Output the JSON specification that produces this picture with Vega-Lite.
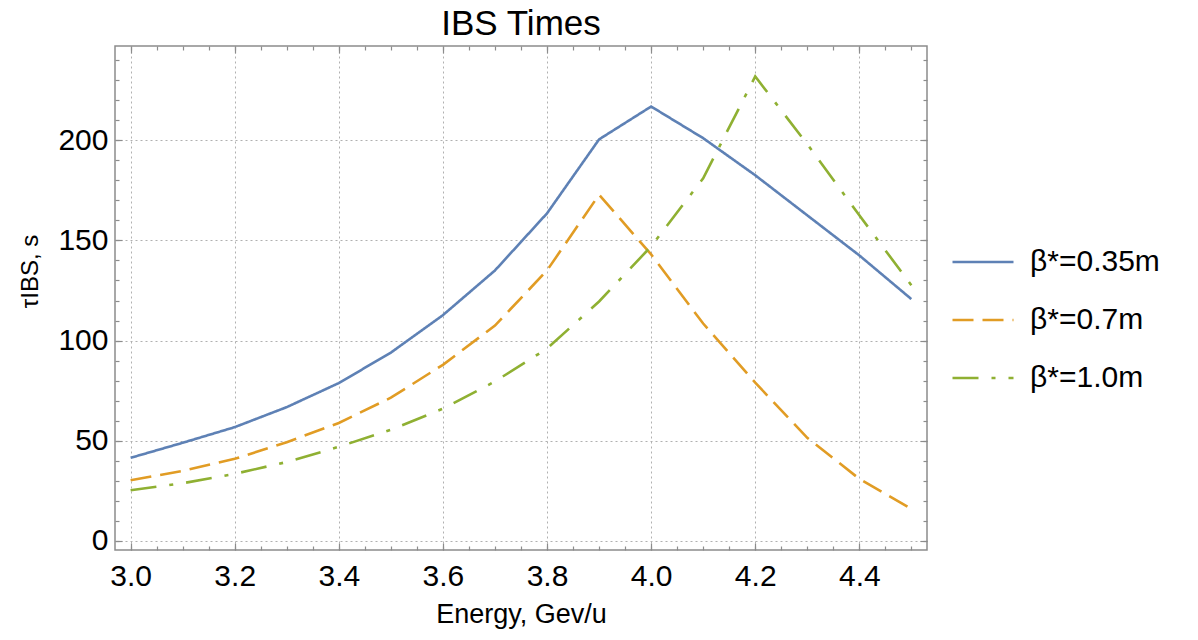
{
  "$schema": "https://vega.github.io/schema/vega-lite/v6.json",
  "width": 812,
  "height": 504,
  "autosize": {"type": "none"},
  "padding": {"left": 115, "top": 46, "right": 271, "bottom": 90},
  "background": "white",
  "config": {
    "font": "Liberation Sans",
    "view": {"stroke": "#8c8c8c", "strokeWidth": 1.5},
    "axis": {
      "domain": false,
      "labelFont": "Liberation Sans",
      "labelColor": "black",
      "titleFont": "Liberation Sans",
      "titleColor": "black",
      "titleFontWeight": "normal",
      "tickColor": "#8c8c8c",
      "tickWidth": 1.2,
      "gridColor": "#b0b0b0",
      "gridDash": [2, 3],
      "gridWidth": 1
    }
  },
  "title": {
    "text": "IBS Times",
    "fontSize": 35,
    "font": "Liberation Sans",
    "fontWeight": "normal",
    "color": "black",
    "anchor": "middle",
    "offset": 3
  },
  "data": {
    "values": [
      {"E": 3.0, "tau": 41.5, "beam": "β*=0.35m"},
      {"E": 3.1, "tau": 49.0, "beam": "β*=0.35m"},
      {"E": 3.2, "tau": 56.8, "beam": "β*=0.35m"},
      {"E": 3.3, "tau": 66.8, "beam": "β*=0.35m"},
      {"E": 3.4, "tau": 78.8, "beam": "β*=0.35m"},
      {"E": 3.5, "tau": 94.0, "beam": "β*=0.35m"},
      {"E": 3.6, "tau": 112.7, "beam": "β*=0.35m"},
      {"E": 3.7, "tau": 135.0, "beam": "β*=0.35m"},
      {"E": 3.8, "tau": 163.5, "beam": "β*=0.35m"},
      {"E": 3.9, "tau": 200.4, "beam": "β*=0.35m"},
      {"E": 4.0, "tau": 216.8, "beam": "β*=0.35m"},
      {"E": 4.1, "tau": 201.0, "beam": "β*=0.35m"},
      {"E": 4.2, "tau": 182.5, "beam": "β*=0.35m"},
      {"E": 4.3, "tau": 162.5, "beam": "β*=0.35m"},
      {"E": 4.4, "tau": 142.5, "beam": "β*=0.35m"},
      {"E": 4.5, "tau": 120.7, "beam": "β*=0.35m"},
      {"E": 3.0, "tau": 30.3, "beam": "β*=0.7m"},
      {"E": 3.1, "tau": 35.0, "beam": "β*=0.7m"},
      {"E": 3.2, "tau": 41.0, "beam": "β*=0.7m"},
      {"E": 3.3, "tau": 49.3, "beam": "β*=0.7m"},
      {"E": 3.4, "tau": 58.9, "beam": "β*=0.7m"},
      {"E": 3.5, "tau": 71.5, "beam": "β*=0.7m"},
      {"E": 3.6, "tau": 87.9, "beam": "β*=0.7m"},
      {"E": 3.7, "tau": 107.5, "beam": "β*=0.7m"},
      {"E": 3.8, "tau": 135.0, "beam": "β*=0.7m"},
      {"E": 3.9, "tau": 172.8, "beam": "β*=0.7m"},
      {"E": 4.0, "tau": 143.0, "beam": "β*=0.7m"},
      {"E": 4.1, "tau": 108.5, "beam": "β*=0.7m"},
      {"E": 4.2, "tau": 79.0, "beam": "β*=0.7m"},
      {"E": 4.3, "tau": 51.5, "beam": "β*=0.7m"},
      {"E": 4.4, "tau": 31.0, "beam": "β*=0.7m"},
      {"E": 4.5, "tau": 16.0, "beam": "β*=0.7m"},
      {"E": 3.0, "tau": 25.3, "beam": "β*=1.0m"},
      {"E": 3.1, "tau": 28.8, "beam": "β*=1.0m"},
      {"E": 3.2, "tau": 33.5, "beam": "β*=1.0m"},
      {"E": 3.3, "tau": 39.4, "beam": "β*=1.0m"},
      {"E": 3.4, "tau": 47.0, "beam": "β*=1.0m"},
      {"E": 3.5, "tau": 55.5, "beam": "β*=1.0m"},
      {"E": 3.6, "tau": 66.0, "beam": "β*=1.0m"},
      {"E": 3.7, "tau": 79.6, "beam": "β*=1.0m"},
      {"E": 3.8, "tau": 96.0, "beam": "β*=1.0m"},
      {"E": 3.9, "tau": 119.5, "beam": "β*=1.0m"},
      {"E": 4.0, "tau": 147.0, "beam": "β*=1.0m"},
      {"E": 4.1, "tau": 181.0, "beam": "β*=1.0m"},
      {"E": 4.2, "tau": 231.8, "beam": "β*=1.0m"},
      {"E": 4.3, "tau": 198.0, "beam": "β*=1.0m"},
      {"E": 4.4, "tau": 162.5, "beam": "β*=1.0m"},
      {"E": 4.5, "tau": 127.6, "beam": "β*=1.0m"}
    ]
  },
  "resolve": {"axis": {"x": "independent", "y": "independent"}},
  "layer": [
    {
      "mark": {"type": "line", "strokeWidth": 2.6},
      "encoding": {
        "x": {
          "field": "E",
          "type": "quantitative",
          "scale": {"domain": [2.97, 4.53], "nice": false, "zero": false},
          "axis": {
            "orient": "bottom",
            "values": [3.0, 3.2, 3.4, 3.6, 3.8, 4.0, 4.2, 4.4],
            "format": ".1f",
            "labelFontSize": 30,
            "labelPadding": 11,
            "ticks": false,
            "grid": true,
            "title": "Energy, Gev/u",
            "titleFontSize": 27,
            "titleX": 406,
            "titleY": 72,
            "titleAnchor": "middle",
            "titleAlign": "center",
            "titleBaseline": "alphabetic"
          }
        },
        "y": {
          "field": "tau",
          "type": "quantitative",
          "scale": {"domain": [-4.5, 247], "nice": false, "zero": false},
          "axis": {
            "orient": "left",
            "values": [0, 50, 100, 150, 200],
            "labelFontSize": 30,
            "labelPadding": 7,
            "ticks": false,
            "grid": true,
            "title": "τIBS, s",
            "titleFontSize": 24,
            "titleX": -85,
            "titleY": 225,
            "titleAngle": -90,
            "titleAlign": "center",
            "titleBaseline": "middle"
          }
        },
        "color": {
          "field": "beam",
          "type": "nominal",
          "scale": {
            "domain": ["β*=0.35m", "β*=0.7m", "β*=1.0m"],
            "range": ["#5E81B5", "#E19C24", "#8FB032"]
          },
          "legend": {
            "title": null,
            "orient": "none",
            "legendX": 836,
            "legendY": 184,
            "padding": 0,
            "symbolType": "stroke",
            "symbolSize": 3721,
            "symbolStrokeWidth": 2.5,
            "labelFontSize": 30,
            "labelFont": "Liberation Sans",
            "labelColor": "black",
            "labelOffset": 15,
            "rowPadding": 11
          }
        },
        "strokeDash": {
          "field": "beam",
          "type": "nominal",
          "scale": {
            "domain": ["β*=0.35m", "β*=0.7m", "β*=1.0m"],
            "range": [[1, 0], [21, 9], [26, 13, 4, 13]]
          },
          "legend": {
            "title": null,
            "orient": "none",
            "legendX": 836,
            "legendY": 184,
            "padding": 0,
            "symbolType": "stroke",
            "symbolSize": 3721,
            "symbolStrokeWidth": 2.5,
            "labelFontSize": 30,
            "labelFont": "Liberation Sans",
            "labelColor": "black",
            "labelOffset": 15,
            "rowPadding": 11
          }
        }
      }
    },
    {
      "mark": {"type": "point", "opacity": 0},
      "encoding": {
        "x": {
          "field": "E", "type": "quantitative",
          "scale": {"domain": [2.97, 4.53], "nice": false, "zero": false},
          "axis": {"orient": "bottom", "values": [3.0, 3.2, 3.4, 3.6, 3.8, 4.0, 4.2, 4.4], "labels": false, "grid": false, "ticks": true, "tickSize": -7, "title": null}
        },
        "y": {
          "field": "tau", "type": "quantitative",
          "scale": {"domain": [-4.5, 247], "nice": false, "zero": false},
          "axis": {"orient": "left", "values": [0, 50, 100, 150, 200], "labels": false, "grid": false, "ticks": true, "tickSize": -7, "title": null}
        }
      }
    },
    {
      "mark": {"type": "point", "opacity": 0},
      "encoding": {
        "x": {
          "field": "E", "type": "quantitative",
          "scale": {"domain": [2.97, 4.53], "nice": false, "zero": false},
          "axis": {"orient": "bottom", "values": [3, 3.05, 3.1, 3.15, 3.2, 3.25, 3.3, 3.35, 3.4, 3.45, 3.5, 3.55, 3.6, 3.65, 3.7, 3.75, 3.8, 3.85, 3.9, 3.95, 4, 4.05, 4.1, 4.15, 4.2, 4.25, 4.3, 4.35, 4.4, 4.45, 4.5], "labels": false, "grid": false, "ticks": true, "tickSize": -4, "title": null}
        },
        "y": {
          "field": "tau", "type": "quantitative",
          "scale": {"domain": [-4.5, 247], "nice": false, "zero": false},
          "axis": {"orient": "left", "values": [0, 10, 20, 30, 40, 50, 60, 70, 80, 90, 100, 110, 120, 130, 140, 150, 160, 170, 180, 190, 200, 210, 220, 230, 240], "labels": false, "grid": false, "ticks": true, "tickSize": -4, "title": null}
        }
      }
    },
    {
      "mark": {"type": "point", "opacity": 0},
      "encoding": {
        "x": {
          "field": "E", "type": "quantitative",
          "scale": {"domain": [2.97, 4.53], "nice": false, "zero": false},
          "axis": {"orient": "top", "values": [3.0, 3.2, 3.4, 3.6, 3.8, 4.0, 4.2, 4.4], "labels": false, "grid": false, "ticks": true, "tickSize": -7, "title": null}
        },
        "y": {
          "field": "tau", "type": "quantitative",
          "scale": {"domain": [-4.5, 247], "nice": false, "zero": false},
          "axis": {"orient": "right", "values": [0, 50, 100, 150, 200], "labels": false, "grid": false, "ticks": true, "tickSize": -7, "title": null}
        }
      }
    },
    {
      "mark": {"type": "point", "opacity": 0},
      "encoding": {
        "x": {
          "field": "E", "type": "quantitative",
          "scale": {"domain": [2.97, 4.53], "nice": false, "zero": false},
          "axis": {"orient": "top", "values": [3, 3.05, 3.1, 3.15, 3.2, 3.25, 3.3, 3.35, 3.4, 3.45, 3.5, 3.55, 3.6, 3.65, 3.7, 3.75, 3.8, 3.85, 3.9, 3.95, 4, 4.05, 4.1, 4.15, 4.2, 4.25, 4.3, 4.35, 4.4, 4.45, 4.5], "labels": false, "grid": false, "ticks": true, "tickSize": -4, "title": null}
        },
        "y": {
          "field": "tau", "type": "quantitative",
          "scale": {"domain": [-4.5, 247], "nice": false, "zero": false},
          "axis": {"orient": "right", "values": [0, 10, 20, 30, 40, 50, 60, 70, 80, 90, 100, 110, 120, 130, 140, 150, 160, 170, 180, 190, 200, 210, 220, 230, 240], "labels": false, "grid": false, "ticks": true, "tickSize": -4, "title": null}
        }
      }
    }
  ]
}
